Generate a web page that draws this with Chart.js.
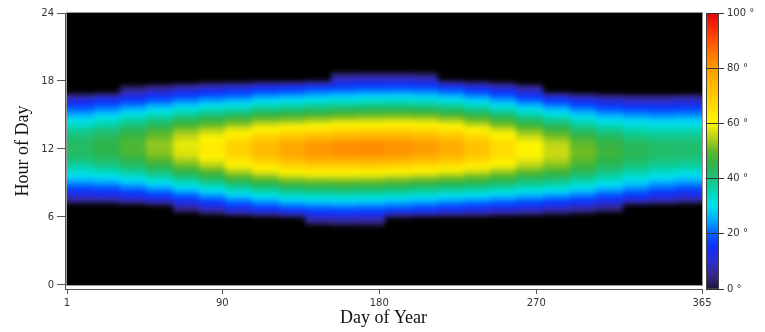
<!DOCTYPE html>
<html>
<head>
<meta charset="utf-8">
<script src="https://cdn.jsdelivr.net/npm/chart.js@4.4.1/dist/chart.umd.min.js"></script>
<style>
  html, body { margin: 0; padding: 0; background: #fff; }
  #wrap { width: 765px; height: 332px; }
</style>
</head>
<body>
<div id="wrap"><canvas id="sunChart" width="765" height="332"></canvas></div>
<script>
// one column roughly every half month, value = sun elevation (deg) per hour cell
const days = [9, 24, 39, 54, 69, 84, 99, 115, 130, 145, 160, 175,
              191, 206, 221, 236, 251, 266, 282, 297, 312, 327, 342, 357];

// first hour with the sun up in each column, the values follow from there
const firstHour = [7, 7, 7, 7, 6, 6, 6, 6, 6, 5, 5, 5,
                   6, 6, 6, 6, 6, 6, 6, 6, 6, 7, 7, 7];

const elevation = [
  [6.5, 18, 28.5, 37, 42.5, 43, 39, 30.5, 20.5, 9],
  [7, 18.5, 30, 39, 44.5, 45.5, 41.5, 33.5, 23, 11.5],
  [9, 21, 32.5, 42, 47.5, 48.5, 45, 37, 26, 14, 2],
  [11.5, 24, 36, 45.5, 52, 53, 48.5, 40, 29, 17, 4],
  [2, 15, 28, 40, 50.5, 57.5, 58.5, 53.5, 44, 32, 19.5, 6.5],
  [6, 19, 32, 44, 54.5, 62, 62.5, 56.5, 46.5, 34.5, 21.5, 8.5],
  [10, 23, 36, 49, 60, 68, 68, 60, 49, 36, 23, 10],
  [12.5, 26, 39, 52, 64, 73, 73, 64, 52, 39, 26, 12.5],
  [15, 28.5, 41.5, 55, 67.5, 77.5, 77, 66, 53, 40, 27, 13.5],
  [4, 16.5, 29.5, 42.5, 56, 69, 80.5, 80, 67.5, 54.5, 41.5, 28.5, 15.5],
  [4.5, 17, 30, 43, 56, 69, 81.5, 81.5, 69, 56, 42.5, 29.5, 16.5, 4.5],
  [4.3, 16.6, 29.4, 42.4, 55.7, 69, 81.8, 82, 69.6, 56.4, 43.2, 30.2, 17.4, 5],
  [15.5, 28, 41.5, 54.5, 68, 80.5, 81.5, 70, 57, 43.5, 30.5, 17.5, 5],
  [14, 27, 40, 53.5, 66.5, 78.5, 80, 69, 56.5, 43, 30, 17, 4],
  [12.5, 25.5, 39, 52, 65, 75.5, 76.5, 67, 54.5, 41.5, 28, 15],
  [11, 24.3, 37.5, 50.3, 62.3, 71.1, 71.5, 63.1, 51.3, 38.5, 25.3, 12],
  [9.4, 22.6, 35.7, 48, 59, 66.1, 66, 58.4, 47.4, 34.9, 21.8, 8.6],
  [8, 21, 33.5, 45, 55, 60.5, 60, 53, 42.5, 30.5, 17.5, 4.5],
  [6, 19, 32, 43, 52, 56.5, 55.5, 48.5, 38.5, 26.5, 13.5],
  [4, 17, 29, 39.5, 47.5, 51, 50, 43.5, 34, 22.5, 10],
  [1.5, 14, 26, 36, 43, 47, 46, 40, 30.5, 19.5, 7.5],
  [11, 23, 32.5, 40, 44, 43, 37, 29, 18, 6],
  [9, 20, 30, 38, 42, 41.5, 36.5, 28, 17.5, 6],
  [7.2, 18.5, 28.5, 37, 41.5, 41.5, 36.5, 28.5, 18, 7]
];

const dayTicks = [1, 90, 180, 270, 365];
const hourTicks = [0, 6, 12, 18, 24];
const scaleTicks = [0, 20, 40, 60, 80, 100];

// colour scale, picked off the legend bar
const colorStops = [
  [0, 28, 24, 60], [5, 55, 40, 140], [10, 45, 45, 210], [15, 15, 45, 250],
  [20, 0, 95, 255], [25, 0, 170, 255], [30, 0, 225, 240], [35, 0, 215, 185],
  [40, 25, 195, 125], [45, 45, 180, 75], [50, 95, 185, 40], [55, 185, 210, 25],
  [60, 255, 245, 0], [65, 255, 225, 0], [70, 255, 200, 0], [75, 255, 178, 0],
  [80, 255, 155, 0], [85, 255, 118, 0], [90, 255, 80, 0], [95, 245, 40, 0],
  [100, 230, 0, 10]
];
const NIGHT = -12; // used for fading the edge of the day into black

function colorAt(v) {
  if (v <= colorStops[0][0]) return colorStops[0].slice(1);
  for (let i = 1; i < colorStops.length; i++) {
    const b = colorStops[i];
    if (v <= b[0]) {
      const a = colorStops[i - 1];
      const t = (v - a[0]) / (b[0] - a[0]);
      return [a[1] + (b[1] - a[1]) * t, a[2] + (b[2] - a[2]) * t, a[3] + (b[3] - a[3]) * t];
    }
  }
  return colorStops[colorStops.length - 1].slice(1);
}

const cells = [];
days.forEach((d, i) => {
  elevation[i].forEach((v, j) => {
    cells.push({ x: d, y: firstHour[i] + j + 0.5, v: v });
  });
});

const heatmapPlugin = {
  id: 'heatmap',
  beforeDraw(chart) {
    // legend bar, drawn first so the axis ticks go across it
    const ctx = chart.ctx;
    const bar = chart.scales.bar;
    const x0 = chart.chartArea.right + 4;
    const top = bar.getPixelForValue(100);
    const bottom = bar.getPixelForValue(0);
    const grad = ctx.createLinearGradient(0, bottom, 0, top);
    colorStops.forEach(s => grad.addColorStop(s[0] / 100, `rgb(${s[1]},${s[2]},${s[3]})`));
    ctx.save();
    ctx.fillStyle = grad;
    ctx.fillRect(x0, top, 13, bottom - top);
    ctx.strokeStyle = '#444';
    ctx.lineWidth = 1;
    ctx.strokeRect(x0 + 0.5, top + 0.5, 12, bottom - top - 1);
    ctx.restore();
  },
  beforeDatasetsDraw(chart) {
    const ctx = chart.ctx;
    const xs = chart.scales.x, ys = chart.scales.y;
    const left = Math.round(xs.getPixelForValue(1));
    const right = Math.round(xs.getPixelForValue(365));
    const top = Math.round(ys.getPixelForValue(24));
    const bottom = Math.round(ys.getPixelForValue(0));
    const pad = 8;
    const w = right - left + pad * 2, h = bottom - top + pad * 2;

    const grid = days.map(() => new Array(24).fill(null));
    chart.data.datasets[0].data.forEach(p => {
      grid[days.indexOf(p.x)][Math.floor(p.y)] = p.v;
    });
    const edges = [1];
    for (let i = 1; i < days.length; i++) edges.push((days[i - 1] + days[i]) / 2);
    edges.push(365);

    const cellValue = (col, hr) => {
      hr = Math.max(0, Math.min(23, hr));
      return col[hr] === null ? NIGHT : col[hr];
    };

    const off = document.createElement('canvas');
    off.width = w; off.height = h;
    const octx = off.getContext('2d');
    const img = octx.createImageData(w, h);
    for (let px = 0; px < w; px++) {
      const day = xs.getValueForPixel(left - pad + px + 0.5);
      let c = 0;
      while (c < days.length - 1 && day >= edges[c + 1]) c++;
      for (let py = 0; py < h; py++) {
        let hour = ys.getValueForPixel(top - pad + py + 0.5);
        hour = Math.max(0, Math.min(24, hour));
        const u = hour - 0.5;
        const h0 = Math.floor(u);
        const f = u - h0;
        const a = cellValue(grid[c], h0), b = cellValue(grid[c], h0 + 1);
        const v = a + (b - a) * f;
        const rgb = v > 0 ? colorAt(v) : [0, 0, 0];
        const k = (py * w + px) * 4;
        img.data[k] = rgb[0];
        img.data[k + 1] = rgb[1];
        img.data[k + 2] = rgb[2];
        img.data[k + 3] = 255;
      }
    }
    octx.putImageData(img, 0, 0);

    ctx.save();
    ctx.beginPath();
    ctx.rect(left, top, right - left, bottom - top);
    ctx.clip();
    ctx.filter = 'blur(2.5px)';
    ctx.drawImage(off, left - pad, top - pad);
    ctx.restore();
  },
  afterDraw(chart) {
    const ctx = chart.ctx;
    const xs = chart.scales.x, ys = chart.scales.y;
    const area = chart.chartArea;
    ctx.save();
    // keep the legend ticks off the white gap next to the plot
    ctx.fillStyle = '#fff';
    ctx.fillRect(area.right + 1, area.top - 2, 3, area.bottom - area.top + 4);
    const left = Math.round(xs.getPixelForValue(1));
    const right = Math.round(xs.getPixelForValue(365));
    const top = Math.round(ys.getPixelForValue(24));
    const bottom = Math.round(ys.getPixelForValue(0));
    ctx.strokeStyle = '#999';
    ctx.lineWidth = 1;
    ctx.strokeRect(left - 0.5, top - 0.5, right - left + 1, bottom - top + 1);
    ctx.restore();
  }
};

Chart.defaults.font.family = "'DejaVu Sans', Verdana, sans-serif";
Chart.defaults.font.size = 10;
Chart.defaults.color = '#333';

const ctx = document.getElementById('sunChart').getContext('2d');
new Chart(ctx, {
  type: 'scatter',
  data: {
    datasets: [{
      label: 'Sun elevation',
      data: cells,
      pointRadius: 0,
      pointHoverRadius: 0
    }]
  },
  options: {
    responsive: false,
    animation: false,
    devicePixelRatio: 1,
    layout: { padding: { top: 13, left: 0, right: 0, bottom: 0 } },
    plugins: {
      legend: { display: false },
      tooltip: { enabled: false }
    },
    scales: {
      x: {
        type: 'linear',
        min: -0.15,
        max: 365,
        afterBuildTicks: s => { s.ticks = dayTicks.map(v => ({ value: v })); },
        afterFit: s => { s.height = 43; },
        grid: { drawOnChartArea: false, tickLength: 5, color: '#555' },
        border: { color: '#555' },
        ticks: { padding: 3, maxRotation: 0, autoSkip: false, callback: v => String(v) },
        title: {
          display: true,
          text: 'Day of Year',
          color: '#111',
          font: { family: "'Liberation Serif', 'Times New Roman', serif", size: 18 },
          padding: { top: 0, bottom: 3 }
        }
      },
      y: {
        type: 'linear',
        min: -0.353,
        max: 24,
        afterBuildTicks: s => { s.ticks = hourTicks.map(v => ({ value: v })); },
        afterFit: s => { s.width = 65; },
        grid: { drawOnChartArea: false, tickLength: 8, color: '#555' },
        border: { color: '#555' },
        ticks: { padding: 3, callback: v => String(v) },
        title: {
          display: true,
          text: 'Hour of Day',
          color: '#111',
          font: { family: "'Liberation Serif', 'Times New Roman', serif", size: 18 },
          padding: { top: 12, bottom: 0 }
        }
      },
      bar: {
        type: 'linear',
        axis: 'y',
        position: 'right',
        min: 0,
        max: 100,
        afterBuildTicks: s => { s.ticks = scaleTicks.map(v => ({ value: v })); },
        afterFit: s => { s.width = 63; },
        grid: { drawOnChartArea: false, tickLength: 22, color: '#333' },
        border: { display: false },
        ticks: { padding: 3, callback: v => v + ' °' }
      }
    }
  },
  plugins: [heatmapPlugin]
});
</script>
</body>
</html>
